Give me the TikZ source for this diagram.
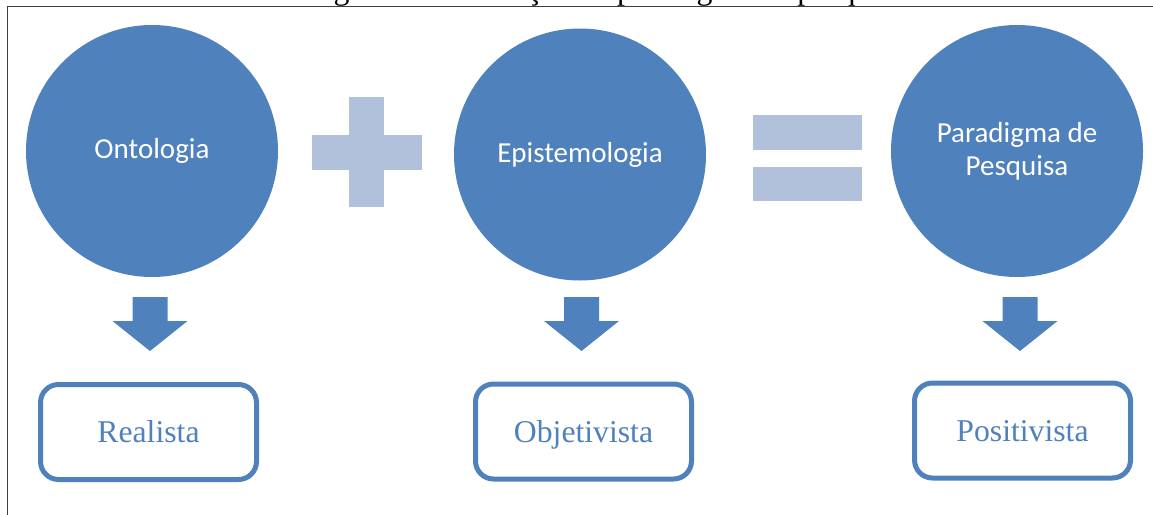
\documentclass[tikz,border=0pt]{standalone}
\usepackage{fontspec}
\setmainfont{Liberation Serif}
\newfontfamily\bodyfont{Carlito}
\definecolor{accent}{HTML}{4F81BD}
\definecolor{accentlight}{HTML}{B2C1DB}
\definecolor{framegray}{HTML}{3F3F3F}
\tikzset{
  concept/.style={circle, fill=accent, draw=none, minimum size=252pt, inner sep=0pt,
    text=white, font=\bodyfont\fontsize{29}{33}\selectfont, align=center},
  result/.style={rectangle, rounded corners=18pt, draw=accent, line width=5pt, fill=white,
    minimum width=216pt, minimum height=95pt, inner sep=0pt,
    text height=21pt, text depth=0pt,
    text=accent, font=\fontsize{31.7}{36}\selectfont},
  operator/.style={fill=accentlight, draw=none},
  blockarrow/.style={fill=accent, draw=none},
  panel/.style={draw=framegray, line width=1.5pt}
}
\begin{document}
\begin{tikzpicture}[x=1pt, y=-1pt]
  \useasboundingbox (0,0) rectangle (1153,514);

  % caption above the frame (only its lower part lies inside the page)
  \begin{scope}
    \clip (0,0) rectangle (1153,514);
    \node[anchor=base, inner sep=0pt, font=\fontsize{31.8}{36}\selectfont] (caption)
      at (607,-1) {Figura 3 – Definição de paradigma de pesquisa};
  \end{scope}

  % frame around the figure
  \draw[panel] (1160,6.5) -- (7.5,6.5) -- (7.5,520);

  % the three concepts
  \node[concept] (c1) at (152,151) {Ontologia};
  \node[concept] (c2) at (580,154.5) {Epistemologia};
  \node[concept] (c3) at (1017,151) {Paradigma de\\Pesquisa};

  % plus sign
  \fill[operator] (349,97) rectangle (384,207);
  \fill[operator] (312,135) rectangle (422,170);

  % equals sign
  \fill[operator] (753,115) rectangle (862,150);
  \fill[operator] (753,167) rectangle (862,201);

  % results
  \node[result] (r1) at (148.5,432) {Realista};
  \node[result] (r2) at (583.5,431.5) {Objetivista};
  \node[result] (r3) at (1022.5,430.5) {Positivista};

  % block arrows from each concept down to its result
  \coordinate (a1) at (150,297);
  \coordinate (a2) at (581.5,297);
  \coordinate (a3) at (1020,297);
  \foreach \a in {a1,a2,a3}{
    \fill[blockarrow, shift={(\a)}] (-17.5,0) -- (17.5,0) -- (17.5,24) -- (37.5,24)
      -- (0,54) -- (-37.5,24) -- (-17.5,24) -- cycle;
  }
\end{tikzpicture}
\end{document}
